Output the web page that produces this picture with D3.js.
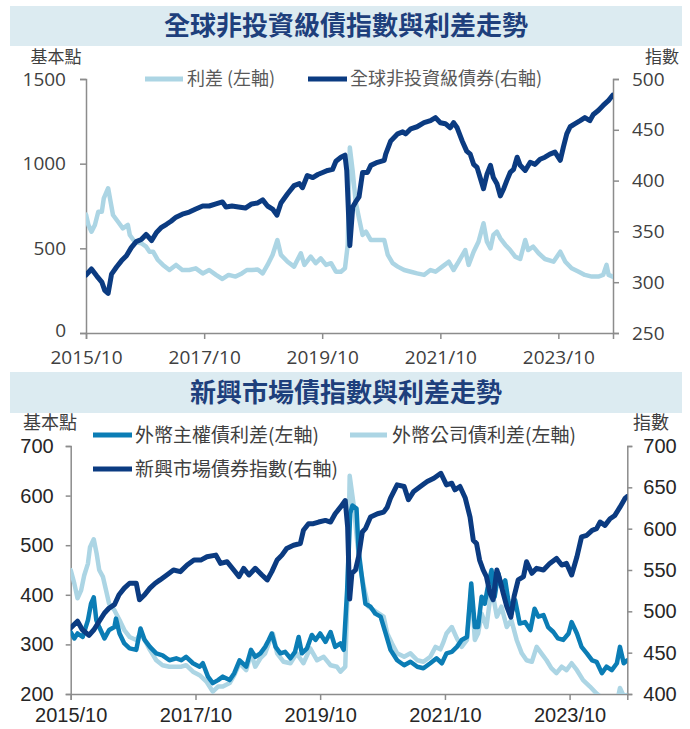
<!DOCTYPE html>
<html><head><meta charset="utf-8">
<script src="https://cdn.jsdelivr.net/npm/d3@7"></script>
<style>
html,body{margin:0;padding:0;background:#fff;}
svg{display:block;}
</style></head>
<body>
<svg id="chart" width="690" height="729"></svg>
<script>
// ---------- DATA ----------
const xTickDates = ["2015-10-01","2017-10-01","2019-10-01","2021-10-01","2023-10-01"];
const xTickLabels = ["2015/10","2017/10","2019/10","2021/10","2023/10"];
const xDomain = ["2015-10-01","2024-09-03"];

// Top chart
const topTitle = "全球非投資級債指數與利差走勢";
const topLegend = ["利差 (左軸)","全球非投資級債券(右軸)"];
const topLeftTicks = [0,500,1000,1500];
const topRightTicks = [250,300,350,400,450,500];

const hyIndexDates = ["2015-10-01","2015-11-04","2015-12-07","2016-01-07","2016-01-25","2016-02-15","2016-03-07","2016-04-07","2016-05-07","2016-06-07","2016-07-07","2016-08-07","2016-09-07","2016-10-07","2016-11-10","2016-12-10","2017-01-10","2017-02-10","2017-03-10","2017-04-10","2017-05-19","2017-07-01","2017-08-10","2017-09-22","2017-11-01","2017-12-13","2018-01-22","2018-02-13","2018-03-22","2018-05-01","2018-06-13","2018-07-22","2018-08-28","2018-09-28","2018-10-28","2018-11-28","2018-12-25","2019-01-19","2019-03-01","2019-04-10","2019-05-13","2019-06-01","2019-07-01","2019-08-04","2019-09-04","2019-10-04","2019-11-04","2019-12-04","2019-12-25","2020-01-25","2020-02-19","2020-03-01","2020-03-20","2020-04-07","2020-04-25","2020-05-16","2020-06-07","2020-07-07","2020-07-28","2020-09-07","2020-10-19","2020-10-28","2020-11-28","2021-01-10","2021-02-10","2021-03-01","2021-04-01","2021-05-10","2021-06-22","2021-08-01","2021-09-01","2021-10-01","2021-11-01","2021-12-01","2021-12-22","2022-01-13","2022-02-13","2022-03-13","2022-04-04","2022-04-25","2022-05-16","2022-06-04","2022-06-25","2022-07-16","2022-08-07","2022-08-25","2022-09-16","2022-10-07","2022-10-28","2022-11-16","2022-12-07","2022-12-28","2023-01-19","2023-02-07","2023-03-10","2023-04-10","2023-05-10","2023-06-10","2023-07-10","2023-08-10","2023-09-10","2023-10-13","2023-11-01","2023-11-22","2023-12-13","2024-01-13","2024-02-13","2024-03-13","2024-04-13","2024-05-04","2024-06-04","2024-07-04","2024-08-07","2024-09-01"];
const hyIndex = [307,313,306,300,292,289,308,315,321,326,334,340,342,347,341,349,354,357,360,364,367,369,372,375,375,377,379,374,375,374,373,377,378,381,375,372,366,378,387,395,397,393,405,403,406,408,410,411,419,423,425,410,336,374,379,384,408,408,415,418,420,426,439,446,448,446,451,453,457,459,462,457,456,452,457,452,439,429,426,416,413,403,392,406,415,403,397,385,392,400,408,411,423,415,410,418,416,421,423,426,428,420,433,446,453,456,459,462,459,465,469,474,479,484];

const hySpreadDates = ["2015-10-01","2015-10-16","2015-11-04","2015-11-25","2015-12-16","2016-01-07","2016-01-19","2016-02-15","2016-03-01","2016-03-16","2016-04-16","2016-05-16","2016-06-16","2016-06-28","2016-07-28","2016-09-07","2016-10-07","2016-10-28","2016-11-19","2016-12-19","2017-01-19","2017-02-28","2017-04-10","2017-05-19","2017-07-01","2017-08-10","2017-09-22","2017-11-01","2017-12-13","2018-01-22","2018-03-01","2018-04-13","2018-05-22","2018-06-22","2018-07-22","2018-08-28","2018-09-28","2018-10-28","2018-11-28","2018-12-28","2019-01-19","2019-03-01","2019-04-10","2019-05-22","2019-06-13","2019-07-22","2019-08-22","2019-09-22","2019-10-25","2019-11-25","2019-12-25","2020-01-25","2020-02-19","2020-03-07","2020-03-20","2020-04-07","2020-04-25","2020-05-16","2020-06-07","2020-06-28","2020-07-28","2020-09-07","2020-10-19","2020-11-10","2020-12-10","2021-01-10","2021-02-19","2021-04-01","2021-05-10","2021-06-22","2021-08-01","2021-09-01","2021-10-13","2021-11-22","2021-12-22","2022-01-22","2022-03-04","2022-03-25","2022-04-25","2022-05-25","2022-06-25","2022-07-16","2022-08-07","2022-08-25","2022-09-16","2022-10-07","2022-11-07","2022-12-07","2023-01-07","2023-02-07","2023-03-10","2023-03-28","2023-04-28","2023-06-01","2023-07-10","2023-09-01","2023-10-13","2023-11-13","2023-12-22","2024-02-04","2024-03-13","2024-04-25","2024-06-04","2024-07-04","2024-07-25","2024-08-07","2024-09-01"];
const hySpread = [700,638,598,638,716,716,795,855,776,697,657,618,638,579,539,530,510,480,480,431,402,372,402,372,372,382,352,372,343,319,343,333,352,372,372,375,352,402,461,549,461,421,392,471,402,451,412,441,402,412,362,362,382,520,1095,953,776,677,579,598,549,549,549,461,412,392,372,362,352,343,372,362,392,421,372,421,490,402,480,539,648,539,500,579,598,559,520,490,451,437,549,490,510,471,437,421,480,421,382,362,343,333,333,343,402,343,333];

// Bottom chart
const botTitle = "新興市場債指數與利差走勢";
const botLegend = ["外幣主權債利差(左軸)","外幣公司債利差(左軸)","新興市場債券指數(右軸)"];
const botLeftTicks = [200,300,400,500,600,700];
const botRightTicks = [400,450,500,550,600,650,700];

const emIndexDates = ["2015-10-01","2015-11-10","2015-12-07","2016-01-16","2016-02-15","2016-03-16","2016-04-16","2016-05-13","2016-06-13","2016-07-10","2016-08-10","2016-09-10","2016-10-19","2016-11-07","2016-12-07","2017-01-07","2017-02-07","2017-03-07","2017-04-16","2017-05-25","2017-07-04","2017-08-13","2017-09-22","2017-11-01","2017-12-07","2018-01-28","2018-02-25","2018-04-04","2018-05-13","2018-06-13","2018-07-10","2018-08-10","2018-09-16","2018-10-25","2018-11-25","2018-12-22","2019-01-22","2019-02-19","2019-03-19","2019-04-28","2019-06-07","2019-06-25","2019-07-25","2019-08-22","2019-09-22","2019-11-01","2019-12-01","2019-12-28","2020-01-28","2020-02-25","2020-03-10","2020-03-22","2020-04-04","2020-04-25","2020-05-13","2020-06-04","2020-06-22","2020-07-22","2020-09-01","2020-10-07","2020-10-28","2020-11-16","2020-12-25","2021-02-04","2021-03-01","2021-04-01","2021-05-10","2021-06-19","2021-07-28","2021-09-07","2021-10-10","2021-11-10","2021-11-28","2021-12-28","2022-01-28","2022-02-25","2022-03-16","2022-04-04","2022-04-22","2022-05-13","2022-06-01","2022-06-22","2022-07-10","2022-08-01","2022-08-19","2022-09-07","2022-09-28","2022-10-22","2022-11-10","2022-12-04","2023-01-04","2023-01-22","2023-02-22","2023-03-22","2023-05-01","2023-06-07","2023-07-16","2023-08-16","2023-09-13","2023-10-13","2023-11-13","2023-12-10","2024-01-10","2024-02-10","2024-03-07","2024-03-28","2024-04-25","2024-05-25","2024-06-22","2024-07-22","2024-08-22","2024-09-03"];
const emIndex = [480,488,478,471,478,488,498,504,508,520,528,534,534,514,520,528,534,538,544,550,548,556,562,562,566,568,558,560,550,542,552,544,552,544,538,548,562,568,576,580,582,598,606,606,608,610,608,618,626,634,602,515,546,550,566,596,600,614,618,620,626,637,653,651,635,645,651,657,661,667,653,655,647,651,637,614,586,582,562,550,542,522,514,550,538,522,506,493,518,538,542,560,546,552,550,558,564,556,558,544,566,590,592,598,600,608,604,612,616,626,637,639];

const emSovDates = ["2015-10-01","2015-10-22","2015-11-10","2015-12-10","2016-01-10","2016-01-28","2016-02-13","2016-02-28","2016-03-16","2016-04-16","2016-05-13","2016-06-13","2016-06-22","2016-07-13","2016-08-10","2016-09-10","2016-10-19","2016-11-13","2016-12-07","2017-01-07","2017-02-13","2017-03-22","2017-05-01","2017-06-10","2017-07-10","2017-08-07","2017-09-16","2017-10-25","2017-11-13","2017-12-13","2018-01-10","2018-02-10","2018-03-10","2018-04-19","2018-05-16","2018-06-16","2018-07-25","2018-08-22","2018-09-16","2018-10-16","2018-11-13","2018-12-04","2018-12-22","2019-01-13","2019-02-10","2019-03-10","2019-04-10","2019-05-07","2019-05-28","2019-06-16","2019-07-16","2019-08-13","2019-09-04","2019-10-01","2019-11-01","2019-12-01","2019-12-28","2020-01-28","2020-02-16","2020-03-07","2020-03-25","2020-04-07","2020-05-01","2020-05-13","2020-06-04","2020-06-22","2020-07-22","2020-08-19","2020-09-19","2020-10-19","2020-11-16","2020-12-25","2021-02-04","2021-03-13","2021-04-22","2021-05-28","2021-07-07","2021-08-13","2021-09-13","2021-10-10","2021-11-10","2021-12-10","2022-01-07","2022-02-07","2022-03-04","2022-03-25","2022-04-13","2022-05-04","2022-05-22","2022-06-13","2022-07-01","2022-07-19","2022-08-10","2022-08-28","2022-09-19","2022-10-07","2022-10-25","2022-11-16","2022-12-13","2023-01-13","2023-02-13","2023-03-10","2023-04-01","2023-05-01","2023-05-28","2023-06-28","2023-07-25","2023-08-25","2023-09-25","2023-10-13","2023-11-13","2023-12-10","2024-01-10","2024-02-10","2024-03-07","2024-04-07","2024-05-04","2024-06-04","2024-07-04","2024-07-22","2024-08-13","2024-09-03"];
const emSov = [325,312,322,315,349,382,395,349,335,312,329,335,352,322,302,292,289,332,309,295,282,278,268,272,268,275,262,255,262,235,222,228,235,228,242,268,255,289,275,282,295,309,322,295,282,285,272,285,315,282,292,319,309,322,305,325,295,302,289,409,564,580,574,490,429,382,376,362,356,322,289,268,258,265,255,252,262,272,262,282,285,295,309,315,423,335,335,396,382,423,450,396,443,416,429,389,362,389,342,345,329,372,356,359,335,325,312,309,322,345,322,295,282,268,265,242,255,248,262,295,262,268];

const emCorpDates = ["2015-10-01","2015-10-22","2015-11-10","2015-12-01","2015-12-19","2016-01-10","2016-01-22","2016-02-13","2016-03-01","2016-03-16","2016-04-07","2016-04-25","2016-05-13","2016-06-13","2016-07-13","2016-08-10","2016-09-10","2016-10-19","2016-11-13","2016-12-07","2017-01-07","2017-02-13","2017-03-22","2017-05-01","2017-06-10","2017-07-10","2017-08-07","2017-09-16","2017-10-25","2017-12-04","2018-01-10","2018-02-10","2018-03-10","2018-04-19","2018-05-16","2018-06-16","2018-07-25","2018-08-22","2018-09-16","2018-10-16","2018-11-13","2018-12-04","2018-12-28","2019-01-22","2019-03-01","2019-04-10","2019-05-16","2019-06-25","2019-08-04","2019-09-13","2019-10-22","2019-12-01","2020-01-07","2020-01-28","2020-02-25","2020-03-10","2020-03-22","2020-04-16","2020-05-04","2020-05-22","2020-06-13","2020-07-10","2020-08-10","2020-09-10","2020-10-07","2020-10-28","2020-11-25","2020-12-25","2021-02-04","2021-03-13","2021-04-22","2021-05-28","2021-07-07","2021-08-07","2021-09-04","2021-09-19","2021-10-10","2021-11-10","2021-12-10","2022-01-07","2022-02-07","2022-03-04","2022-03-25","2022-04-13","2022-05-04","2022-06-01","2022-07-01","2022-08-01","2022-08-28","2022-09-28","2022-10-25","2022-11-25","2022-12-25","2023-01-22","2023-02-22","2023-03-22","2023-04-19","2023-05-19","2023-06-16","2023-07-16","2023-08-16","2023-09-13","2023-10-13","2023-11-13","2023-12-19","2024-01-28","2024-03-07","2024-04-16","2024-05-25","2024-07-04","2024-07-22","2024-08-13","2024-09-03"];
const emCorp = [450,423,393,409,439,463,496,512,483,450,436,409,382,369,349,329,315,309,322,309,289,268,258,255,255,255,258,245,238,225,205,215,215,222,238,262,248,282,255,272,282,302,322,282,265,262,282,262,292,268,275,258,255,245,255,409,640,577,510,456,416,376,369,362,356,322,302,282,275,282,268,265,275,295,290,302,322,335,312,295,309,416,309,322,362,335,415,356,376,335,349,309,282,268,265,295,282,268,252,242,255,248,262,248,228,215,201,190,185,182,212,196,198];

// ---------- DRAW ----------
const parse = d3.timeParse("%Y-%m-%d");
const svg = d3.select("#chart");
const CJK = "'Noto Sans CJK TC','Noto Sans CJK SC',sans-serif";
const navy = "#0b3b81", light = "#acd5e4", mid = "#0b7db5";
const axisColor = "#8c8c8c";

function titleBand(y, h, text){
  svg.append("rect").attr("x",10).attr("y",y).attr("width",672).attr("height",h).attr("fill","#dcebf1");
  svg.append("text").attr("x",346).attr("y",y+h/2).attr("dy","0.36em")
    .attr("text-anchor","middle").attr("font-family",CJK).attr("font-weight","bold")
    .attr("font-size",26).attr("fill","#1e3f7c").text(text);
}

function styleAxis(g, fontFamily, fontSize, color){
  g.select(".domain").attr("stroke",axisColor).attr("stroke-width",1.5);
  g.selectAll(".tick line").attr("stroke",axisColor).attr("stroke-width",1.5);
  g.selectAll(".tick text").attr("font-family",fontFamily).attr("font-size",fontSize).attr("fill",color);
}

function lineGen(x, y){
  return d3.line().x(d=>x(d[0])).y(d=>y(d[1])).curve(d3.curveLinear);
}
function zipData(dates, vals){ return dates.map((d,i)=>[parse(d), vals[i]]); }
const fmtInt = d3.format("d");

// ===== TOP CHART =====
titleBand(6, 40, topTitle);
{
  const x = d3.scaleTime().domain(xDomain.map(parse)).range([86,613]);
  const yL = d3.scaleLinear().domain([0,1500]).range([333,79]);
  const yR = d3.scaleLinear().domain([250,500]).range([333,79]);
  const numFont = "'Open Sans','Liberation Sans',sans-serif";

  svg.append("clipPath").attr("id","clipTop").append("rect").attr("x",86).attr("y",70).attr("width",527).attr("height",263);

  const gx = svg.append("g").attr("transform","translate(0,333)")
    .call(d3.axisBottom(x).tickValues(xTickDates.map(parse)).tickFormat((d,i)=>xTickLabels[i]).tickSizeOuter(0).tickSize(6).tickPadding(12));
  styleAxis(gx, numFont, 19, "#404040");
  const gl = svg.append("g").attr("transform","translate(86,0)")
    .call(d3.axisLeft(yL).tickValues(topLeftTicks).tickFormat(fmtInt).tickSizeOuter(0).tickSize(6).tickPadding(14));
  styleAxis(gl, numFont, 19, "#404040");
  gl.selectAll(".tick text").filter(d=>d===0).attr("dy","0.2em");
  const gr = svg.append("g").attr("transform","translate(613,0)")
    .call(d3.axisRight(yR).tickValues(topRightTicks).tickFormat(fmtInt).tickSizeOuter(0).tickSize(6).tickPadding(13));
  styleAxis(gr, numFont, 19, "#404040");

  const plot = svg.append("g").attr("clip-path","url(#clipTop)");
  plot.append("path").datum(zipData(hySpreadDates, hySpread)).attr("d", lineGen(x,yL))
    .attr("fill","none").attr("stroke",light).attr("stroke-width",4.5).attr("stroke-linejoin","round").attr("stroke-linecap","round");
  plot.append("path").datum(zipData(hyIndexDates, hyIndex)).attr("d", lineGen(x,yR))
    .attr("fill","none").attr("stroke",navy).attr("stroke-width",5).attr("stroke-linejoin","round").attr("stroke-linecap","round");

  svg.append("text").attr("x",56).attr("y",63).attr("text-anchor","middle").attr("font-family",CJK).attr("font-size",17).attr("fill","#404040").text("基本點");
  svg.append("text").attr("x",662).attr("y",63).attr("text-anchor","middle").attr("font-family",CJK).attr("font-size",17).attr("fill","#404040").text("指數");

  // legend
  const leg = [{x1:145,x2:183,tx:187,c:light,t:topLegend[0]},{x1:308,x2:347,tx:350,c:navy,t:topLegend[1]}];
  leg.forEach(l=>{
    svg.append("line").attr("x1",l.x1).attr("x2",l.x2).attr("y1",79).attr("y2",79).attr("stroke",l.c).attr("stroke-width",5);
    svg.append("text").attr("x",l.tx).attr("y",79).attr("dy","0.35em").attr("font-family",CJK).attr("font-size",18).attr("fill","#595959").text(l.t);
  });
}

// ===== BOTTOM CHART =====
titleBand(372, 41, botTitle);
{
  const x = d3.scaleTime().domain(xDomain.map(parse)).range([70.7,627.3]);
  const yL = d3.scaleLinear().domain([200,700]).range([694,446]);
  const yR = d3.scaleLinear().domain([400,700]).range([694,446]);
  const numFont = "'Liberation Sans',Arial,sans-serif";

  svg.append("clipPath").attr("id","clipBot").append("rect").attr("x",70.7).attr("y",440).attr("width",556.6).attr("height",254);

  const gx = svg.append("g").attr("transform","translate(0,694)")
    .call(d3.axisBottom(x).tickValues(xTickDates.map(parse)).tickFormat((d,i)=>xTickLabels[i]).tickSizeOuter(0).tickSize(6).tickPadding(8));
  styleAxis(gx, numFont, 20, "#262626");
  const gl = svg.append("g").attr("transform","translate(70.7,0)")
    .call(d3.axisLeft(yL).tickValues(botLeftTicks).tickFormat(fmtInt).tickSizeOuter(0).tickSize(5).tickPadding(12));
  styleAxis(gl, numFont, 20, "#262626");
  const gr = svg.append("g").attr("transform","translate(627.3,0)")
    .call(d3.axisRight(yR).tickValues(botRightTicks).tickFormat(fmtInt).tickSizeOuter(0).tickSize(5).tickPadding(11));
  styleAxis(gr, numFont, 20, "#262626");

  const plot = svg.append("g").attr("clip-path","url(#clipBot)");
  plot.append("path").datum(zipData(emCorpDates, emCorp)).attr("d", lineGen(x,yL))
    .attr("fill","none").attr("stroke",light).attr("stroke-width",4.5).attr("stroke-linejoin","round").attr("stroke-linecap","round");
  plot.append("path").datum(zipData(emSovDates, emSov)).attr("d", lineGen(x,yL))
    .attr("fill","none").attr("stroke",mid).attr("stroke-width",4.5).attr("stroke-linejoin","round").attr("stroke-linecap","round");
  plot.append("path").datum(zipData(emIndexDates, emIndex)).attr("d", lineGen(x,yR))
    .attr("fill","none").attr("stroke",navy).attr("stroke-width",5).attr("stroke-linejoin","round").attr("stroke-linecap","round");

  svg.append("text").attr("x",50).attr("y",429).attr("text-anchor","middle").attr("font-family",CJK).attr("font-size",18).attr("fill","#404040").text("基本點");
  svg.append("text").attr("x",651).attr("y",429).attr("text-anchor","middle").attr("font-family",CJK).attr("font-size",18).attr("fill","#404040").text("指數");

  const leg = [{x1:93,x2:132,tx:135,y:435,c:mid,t:botLegend[0]},{x1:350,x2:387,tx:392,y:435,c:light,t:botLegend[1]},{x1:93,x2:132,tx:135,y:469,c:navy,t:botLegend[2]}];
  leg.forEach(l=>{
    svg.append("line").attr("x1",l.x1).attr("x2",l.x2).attr("y1",l.y).attr("y2",l.y).attr("stroke",l.c).attr("stroke-width",5);
    svg.append("text").attr("x",l.tx).attr("y",l.y).attr("dy","0.35em").attr("font-family",CJK).attr("font-size",19).attr("fill","#404040").text(l.t);
  });
}
</script>
</body></html>
